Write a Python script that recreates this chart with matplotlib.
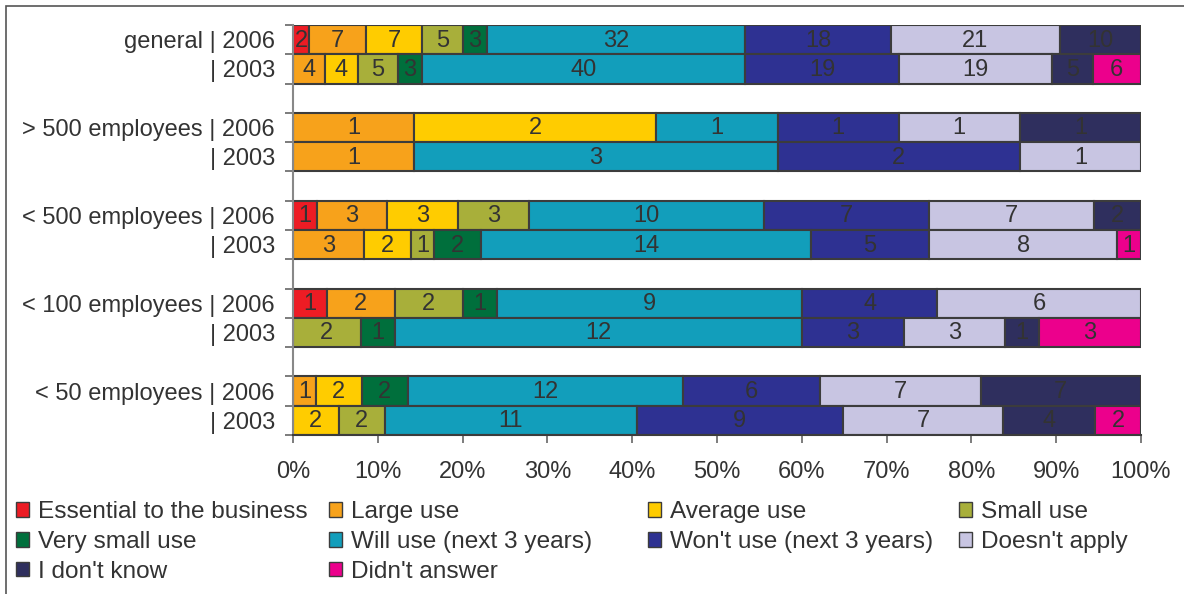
import matplotlib.pyplot as plt
from matplotlib.patches import Patch, Rectangle
import numpy as np

plt.rcParams['font.family'] = ['Liberation Sans', 'DejaVu Sans']

categories = ["Essential to the business", "Large use", "Average use", "Small use",
              "Very small use", "Will use (next 3 years)", "Won't use (next 3 years)",
              "Doesn't apply", "I don't know", "Didn't answer"]
colors = ["#ED1C24", "#F7A21B", "#FFCC00", "#A8AF3A", "#006F3C",
          "#129EBB", "#2E3192", "#C8C5E2", "#2F2F5E", "#EC008C"]

groups = ["general", "> 500 employees", "< 500 employees", "< 100 employees", "< 50 employees"]
years = ["2006", "2003"]

# answer counts per group, one row per year (2006, 2003), one column per category
counts = {
    "general":         [[2, 7, 7, 5, 3, 32, 18, 21, 10, 0],
                        [0, 4, 4, 5, 3, 40, 19, 19, 5, 6]],
    "> 500 employees": [[0, 1, 2, 0, 0, 1, 1, 1, 1, 0],
                        [0, 1, 0, 0, 0, 3, 2, 1, 0, 0]],
    "< 500 employees": [[1, 3, 3, 3, 0, 10, 7, 7, 2, 0],
                        [0, 3, 2, 1, 2, 14, 5, 8, 0, 1]],
    "< 100 employees": [[1, 2, 0, 2, 1, 9, 4, 6, 0, 0],
                        [0, 0, 0, 2, 1, 12, 3, 3, 1, 3]],
    "< 50 employees":  [[0, 1, 2, 0, 2, 12, 6, 7, 7, 0],
                        [0, 0, 2, 2, 0, 11, 9, 7, 4, 2]],
}

txt = "#333333"
edge = "#3C3C3C"
fs = 17

fig = plt.figure(figsize=(11.84, 5.94), dpi=100)
ax = fig.add_axes([293/1184, 1 - 435/594, 848/1184, 410/594])

# outer frame (only left and top visible)
fig.patches.append(Rectangle((6/1184, -0.1), 1.2, 1 - 6/594 + 0.1, transform=fig.transFigure,
                             fill=False, edgecolor="#555555", linewidth=1.2))

ypos = []
ylabels = []
for g, name in enumerate(groups):
    for j, yr in enumerate(years):
        y = 3 * g + j
        ypos.append(y)
        ylabels.append((name + " | " if j == 0 else "| ") + yr)
        row = np.array(counts[name][j], dtype=float)
        frac = row / row.sum()
        left = 0.0
        for k in range(len(categories)):
            if row[k] > 0:
                ax.barh(y, frac[k], left=left, height=1.0, color=colors[k],
                        edgecolor=edge, linewidth=1.5)
                ax.text(left + frac[k] / 2, y + 0.03, "%d" % row[k], ha="center", va="center",
                        fontsize=fs, color=txt)
            left += frac[k]

ax.set_xlim(0, 1)
ax.set_ylim(13.5, -0.5)
ax.set_xticks(np.arange(0, 1.01, 0.1))
ax.set_xticklabels(["%d%%" % v for v in range(0, 101, 10)], fontsize=fs, color=txt)
ax.set_yticks(np.arange(-0.5, 13.6, 1.0))
ax.set_yticklabels([])
ax.set_yticks(ypos, minor=True)
ax.set_yticklabels(ylabels, minor=True, fontsize=fs, color=txt)
ax.tick_params(axis="y", which="major", length=6, color="#666666", width=1.2)
ax.tick_params(axis="y", which="minor", length=0, pad=13)
ax.tick_params(axis="x", length=6, color="#666666", width=1.2, pad=13)
for s in ["top", "right"]:
    ax.spines[s].set_visible(False)
ax.spines["left"].set_color("#888888")
ax.spines["left"].set_linewidth(1.5)
ax.spines["bottom"].set_color(edge)
ax.spines["bottom"].set_linewidth(1.5)

# legend laid out row by row: four separate columns
col_x = [16/1184, 329/1184, 648/1184, 959/1184]
for c in range(4):
    idx = list(range(c, len(categories), 4))
    handles = [Patch(facecolor=colors[i], edgecolor=edge, linewidth=1.0) for i in idx]
    leg = fig.legend(handles, [categories[i] for i in idx], loc="upper left",
                     bbox_to_anchor=(col_x[c], 1 - 501/594), frameon=False,
                     fontsize=17.6, handlelength=0.55, handleheight=0.55, handletextpad=0.35,
                     labelspacing=0.32, borderaxespad=0, borderpad=0)
    for t in leg.get_texts():
        t.set_color(txt)

fig.savefig("out.png", dpi=100)
